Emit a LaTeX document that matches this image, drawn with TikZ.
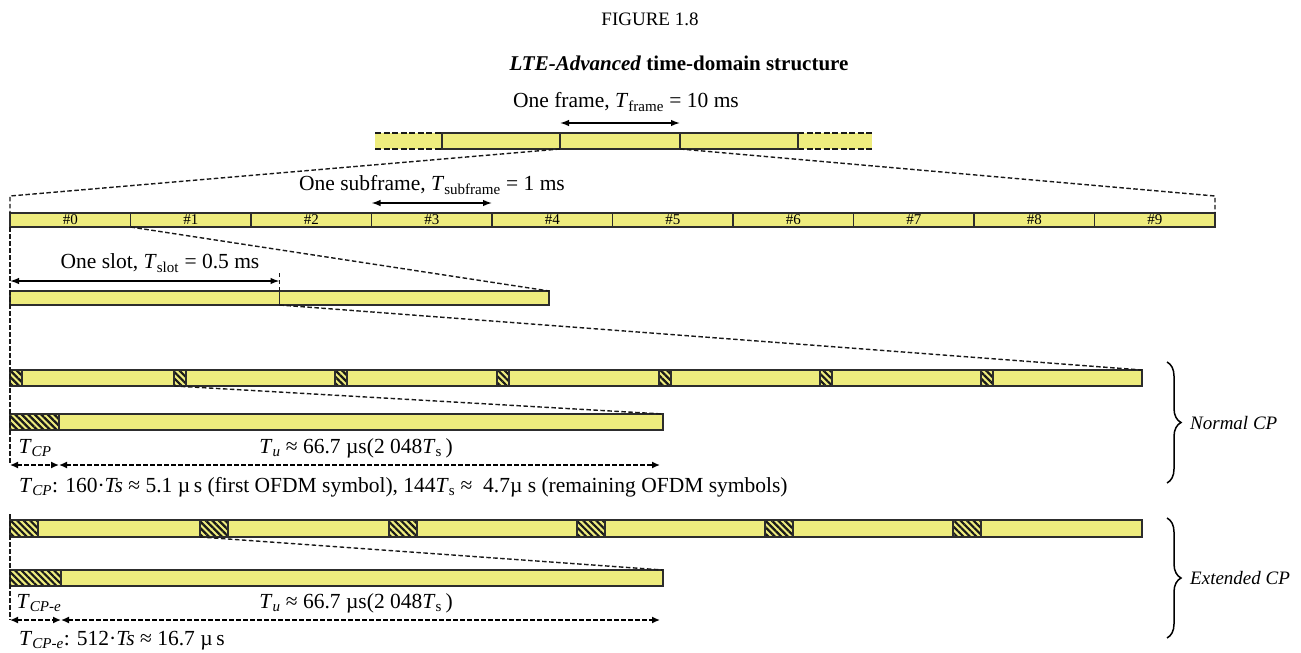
\documentclass[tikz,border=0pt]{standalone}
\usepackage{fontspec}
\setmainfont{Liberation Serif}
\usetikzlibrary{patterns.meta,decorations.pathreplacing,arrows.meta}
\definecolor{barY}{RGB}{238,236,126}
\definecolor{edge}{RGB}{45,45,45}
\tikzset{
  bar/.style={draw=edge, line width=1.5pt, fill=barY, inner sep=0pt, outer sep=0pt, anchor=north west},
  cpbox/.style={draw=edge, line width=1.2pt, inner sep=0pt, outer sep=0pt, anchor=north west,
    preaction={fill=barY}, pattern={Lines[angle=-45,distance=4.6pt,line width=2.2pt]}, pattern color=black!90},
  zoomline/.style={dash pattern=on 4.5pt off 2.5pt, line width=1.4pt, black!90},
  edgedash/.style={dash pattern=on 6pt off 2.5pt, line width=2.4pt, black!90},
  dim/.style={{Latex[length=9pt,width=6.5pt]}-{Latex[length=9pt,width=6.5pt]}, line width=1.4pt},
  ddim/.style={{Latex[length=8pt,width=7pt]}-{Latex[length=8pt,width=7pt]}, dash pattern=on 4.5pt off 2.5pt, line width=1.4pt},
  lbl/.style={font=\fontsize{21.5}{24}\selectfont, inner sep=0pt},
  num/.style={font=\fontsize{15}{16}\selectfont},
  brc/.style={decorate, decoration={brace, amplitude=14pt}, line width=1.5pt},
}
\newcommand{\Tsub}[1]{\textit{T}\textsubscript{#1}}
\begin{document}
\begin{tikzpicture}[x=1pt, y=-1pt]
\useasboundingbox (0,0) rectangle (1301,653);
% titles
\node[lbl, font=\fontsize{19}{22}\selectfont] (fig) at (650,19) {FIGURE 1.8};
\node[lbl, font=\fontsize{21}{24}\selectfont\bfseries] (ttl) at (679,63) {\textit{LTE-Advanced} time-domain structure};

% frame row
\fill[barY] (375,133) rectangle (442,149);
\fill[barY] (798,133) rectangle (872,149);
\draw[edgedash] (375,133) -- (442,133);
\draw[edgedash] (375,149) -- (442,149);
\draw[edgedash] (798,133) -- (872,133);
\draw[edgedash] (798,149) -- (872,149);
\node[bar, minimum width=118pt, minimum height=16pt] (fr1) at (442,133) {};
\node[bar, minimum width=120pt, minimum height=16pt] (fr2) at (560,133) {};
\node[bar, minimum width=118pt, minimum height=16pt] (fr3) at (680,133) {};
\draw[dim] ([yshift=10pt]fr2.north west) -- ([yshift=10pt]fr2.north east);
\node[lbl] (lframe) at (626,102) {One frame, \Tsub{frame} = 10 ms};

% subframes
\foreach \i in {0,...,9} {
  \node[bar, minimum width=120.5pt, minimum height=14pt, num] (sf\i) at ({10+120.5*\i},213) {\#\i};
}
\coordinate (zl1) at (10,196);
\coordinate (zr1) at (1215,196);
\draw[zoomline] (fr2.south west) -- (zl1) -- (sf0.north west);
\draw[zoomline] (fr3.south west) -- (zr1) -- (sf9.north east);
\draw[dim] ([yshift=10pt]sf3.north west) -- ([yshift=10pt]sf3.north east);
\node[lbl] (lsub) at (432,185) {One subframe, \Tsub{subframe} = 1 ms};

% slots
\node[bar, minimum width=269.5pt, minimum height=14pt] (sl1) at (10,291) {};
\node[bar, minimum width=269.5pt, minimum height=14pt] (sl2) at (279.5,291) {};
\draw[zoomline] (sf1.south west) -- (sl2.north east);
\draw[zoomline] (sl1.north east) -- ++(0,-19);
\draw[dim] ([yshift=10pt]sl1.north west) -- ([yshift=10pt]sl1.north east);
\node[lbl] (lslot) at (160,263) {One slot, \Tsub{slot} = 0.5 ms};

% normal CP symbols
\foreach \i/\x/\w in {0/10/164,1/174/161,2/335/162,3/497/162,4/659/161,5/820/161,6/981/161} {
  \node[bar, minimum width=\w pt, minimum height=16pt] (ns\i) at (\x,370) {};
  \node[cpbox, minimum width=12pt, minimum height=16pt] (nc\i) at (\x,370) {};
}
\draw[zoomline] (sl1.south east) -- (ns6.north east);
\node[bar, minimum width=653pt, minimum height=16pt] (nx) at (10,414) {};
\node[cpbox, minimum width=49pt, minimum height=16pt] (nxc) at (10,414) {};
\draw[zoomline] (ns1.south west) -- (nx.north east);
\coordinate (na0) at (10,465);
\coordinate (na1) at (59,465);
\coordinate (na2) at (660,465);
\draw[ddim] (na0) -- (na1);
\draw[ddim] (na1) -- (na2);
\node[lbl] (ltcp) at (35,448) {\textit{T}\textsubscript{\textit{CP}}};
\node[lbl] (ltu) at (356,448) {\textit{T}\textsubscript{\textit{u}} ≈ 66.7 µs(2 048\textit{T}\textsubscript{s}\,)};
\node[lbl, anchor=west] (lcp) at (19,487) {\textit{T}\textsubscript{\textit{CP}}: 160·\textit{Ts} ≈ 5.1 µ\,s (first OFDM symbol), 144\textit{T}\textsubscript{s} ≈\ \ 4.7µ\ s (remaining OFDM symbols)};

% extended CP symbols
\foreach \i/\x/\w in {0/10/190,1/200/189,2/389/188,3/577/188,4/765/188,5/953/189} {
  \node[bar, minimum width=\w pt, minimum height=17pt] (es\i) at (\x,520) {};
  \node[cpbox, minimum width=28pt, minimum height=17pt] (ec\i) at (\x,520) {};
}
\node[bar, minimum width=653pt, minimum height=16pt] (ex) at (10,570) {};
\node[cpbox, minimum width=51pt, minimum height=16pt] (exc) at (10,570) {};
\draw[zoomline] (es1.south west) -- (ex.north east);
\coordinate (ea0) at (10,620);
\coordinate (ea1) at (61,620);
\coordinate (ea2) at (660,620);
\draw[ddim] (ea0) -- (ea1);
\draw[ddim] (ea1) -- (ea2);
\node[lbl] (ltcpe) at (39,603) {\textit{T}\textsubscript{\textit{CP-e}}};
\node[lbl] (ltue) at (356,603) {\textit{T}\textsubscript{\textit{u}} ≈ 66.7 µs(2 048\textit{T}\textsubscript{s}\,)};
\node[lbl, anchor=west] (lcpe) at (19,641) {\textit{T}\textsubscript{\textit{CP-e}}: 512·\textit{Ts} ≈ 16.7 µ\,s};

% vertical guide
\draw[zoomline] (sf0.south west) -- (na0);
\draw[zoomline] (es0.north west) ++(0,-6) -- (ea0);

% braces
\coordinate (b1t) at (1167,362);
\coordinate (b1b) at (1167,483);
\coordinate (b2t) at (1167,518);
\coordinate (b2b) at (1167,638);
\draw[brc] (b1t) -- (b1b);
\draw[brc] (b2t) -- (b2b);
\node[lbl, anchor=west, font=\fontsize{19}{22}\selectfont\itshape] (lnorm) at (1190,423) {Normal CP};
\node[lbl, anchor=west, font=\fontsize{19}{22}\selectfont\itshape] (lext) at (1190,578) {Extended CP};
\end{tikzpicture}
\end{document}
